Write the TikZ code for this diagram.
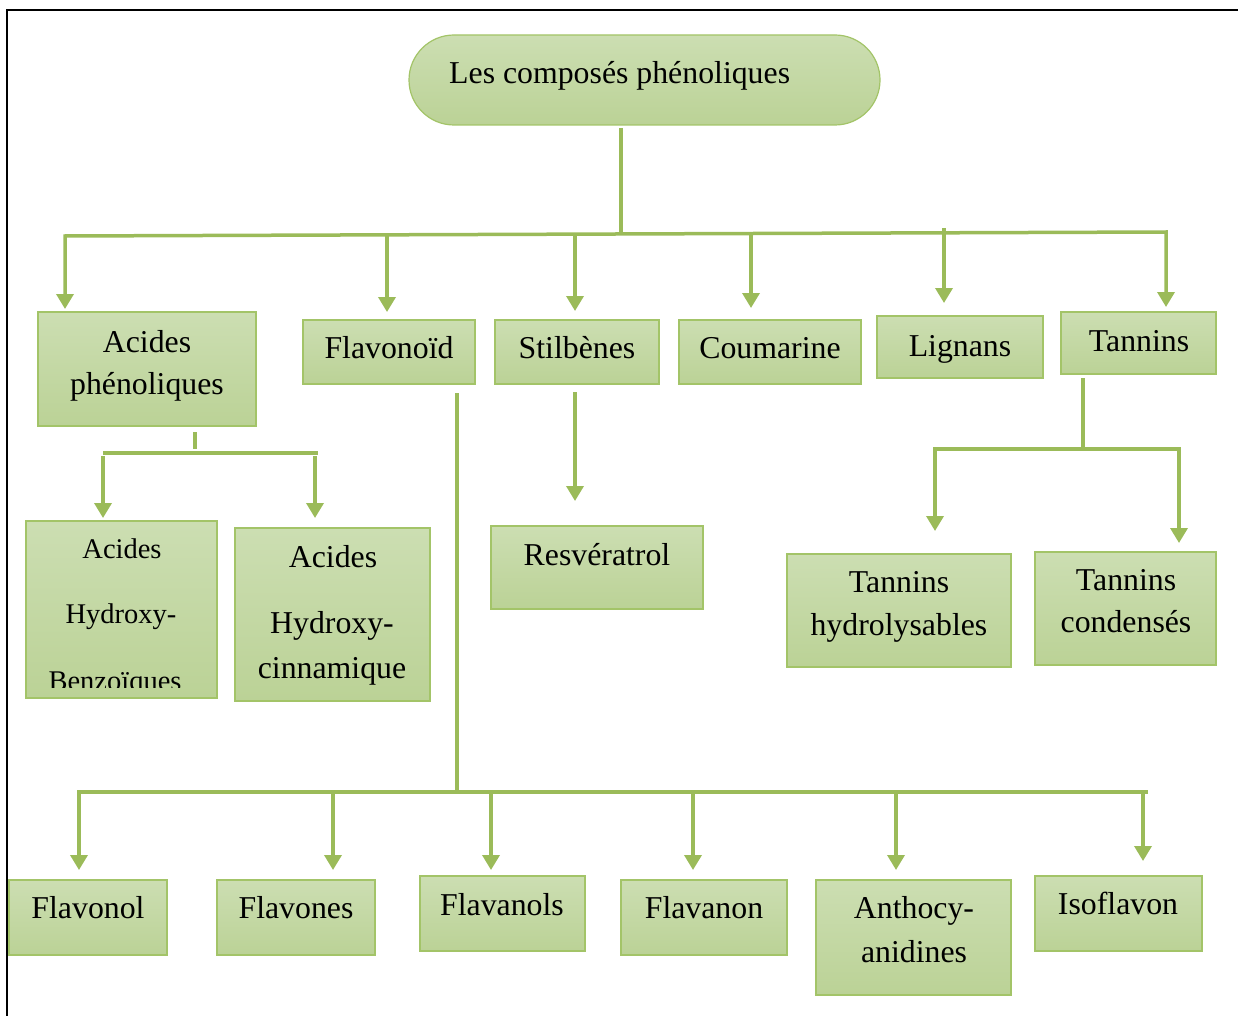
\documentclass[tikz,border=0pt]{standalone}
\usepackage{fontspec}
\setmainfont{Liberation Serif}
\usetikzlibrary{arrows.meta}
\definecolor{olive}{RGB}{155,187,89}
\definecolor{boxtop}{RGB}{204,222,178}
\definecolor{boxbot}{RGB}{187,210,150}
\definecolor{boxedge}{RGB}{163,196,104}
% a shaded green box given by its corners (x1,y1) (x2,y2), y growing downwards
\newcommand\greenbox[5]{\node[box, minimum width={#4-#2}, minimum height={#5-#3}] (#1) at (#2,#3) {};}
\begin{document}
\begin{tikzpicture}[x=1pt,y=-1pt,
  box/.style={draw=boxedge, line width=1.5pt, top color=boxtop, bottom color=boxbot,
              anchor=north west, inner sep=0pt, outer sep=0pt},
  txt/.style={anchor=base, inner sep=0pt, font=\fontsize{31.8}{38}\selectfont},
  small/.style={txt, font=\fontsize{28.5}{34}\selectfont},
  ln/.style={draw=olive, line width=3.5pt},
  tip/.style={-{Triangle[width=17pt,length=15pt]}},
  arr/.style={ln, tip}]
\useasboundingbox (0,0) rectangle (1238,1016);

% frame
\draw[line width=2.5pt] (1238,10) -- (7,10) -- (7,1016);

% root
\node[box, line width=1.2pt, rounded corners=45pt, minimum width=471, minimum height=90] (root) at (409,35) {};
\node[txt, anchor=base west, font=\fontsize{31.8}{38}\selectfont] (rootT) at (449,84) {Les composés phénoliques};

% first level
\greenbox{ap}{38}{312}{256}{426}
\greenbox{flav}{303}{320}{475}{384}
\greenbox{stil}{495}{320}{659}{384}
\greenbox{coum}{679}{320}{861}{384}
\greenbox{lign}{877}{316}{1043}{378}
\greenbox{tann}{1061}{312}{1216}{374}
\node[txt] (apA) at (147,352) {Acides};
\node[txt] (apB) at (147,394) {phénoliques};
\node[txt] (flavT) at (389,358) {Flavonoïd};
\node[txt] (stilT) at (577,358) {Stilbènes};
\node[txt] (coumT) at (770,358) {Coumarine};
\node[txt] (lignT) at (960,356) {Lignans};
\node[txt] (tannT) at (1139,351) {Tannins};

% second level
\greenbox{benz}{26}{521}{217}{698}
\greenbox{cinn}{235}{528}{430}{701}
\greenbox{resv}{491}{526}{703}{609}
\greenbox{thyd}{787}{554}{1011}{667}
\greenbox{tcond}{1035}{552}{1216}{665}
\begin{scope}
  \clip (26,521) rectangle (217,687);
  \node[small] (benzA) at (122,558) {Acides};
  \node[small] (benzB) at (121,623) {Hydroxy-};
  \node[small] (benzC) at (115,690) {Benzoïques};
\end{scope}
\node[txt] (cinnA) at (333,567) {Acides};
\node[txt] (cinnB) at (332,633) {Hydroxy-};
\node[txt] (cinnC) at (332,678) {cinnamique};
\node[txt] (resvT) at (597,565) {Resvératrol};
\node[txt] (thydA) at (899,592) {Tannins};
\node[txt] (thydB) at (899,635) {hydrolysables};
\node[txt] (tcondA) at (1126,590) {Tannins};
\node[txt] (tcondB) at (1126,632) {condensés};

% flavonoid classes
\greenbox{fl1}{9}{880}{167}{955}
\greenbox{fl2}{217}{880}{375}{955}
\greenbox{fl3}{420}{876}{585}{951}
\greenbox{fl4}{621}{880}{787}{955}
\greenbox{fl5}{816}{880}{1011}{995}
\greenbox{fl6}{1035}{876}{1202}{951}
\node[txt] (fl1T) at (88,918) {Flavonol};
\node[txt] (fl2T) at (296,918) {Flavones};
\node[txt] (fl3T) at (502,915) {Flavanols};
\node[txt] (fl4T) at (704,918) {Flavanon};
\node[txt] (fl5A) at (914,918) {Anthocy-};
\node[txt] (fl5B) at (914,962) {anidines};
\node[txt] (fl6T) at (1118,914) {Isoflavon};

% main bus under the root
\coordinate (stem) at (621,128);
\coordinate (busL) at (65,236);
\coordinate (busR) at (1166,232);
\draw[ln] (stem) -- (621,234);
\draw[ln, {Triangle[width=17pt,length=15pt]}-{Triangle[width=17pt,length=15pt]},
      shorten <=3pt, shorten >=5pt]
  (busL |- ap.north) -- (busL) -- (busR) -- (busR |- tann.north);
\coordinate (t2) at (387,235);
\coordinate (t3) at (575,234);
\coordinate (t4) at (751,233.5);
\coordinate (t5) at (944,228);
\draw[arr, shorten >=8pt] (t2) -- (t2 |- flav.north);
\draw[arr, shorten >=9pt] (t3) -- (t3 |- stil.north);
\draw[arr, shorten >=12pt] (t4) -- (t4 |- coum.north);
\draw[arr, shorten >=13pt] (t5) -- (t5 |- lign.north);

% acides phenoliques branch
\coordinate (apStem) at (195,432);
\coordinate (apL) at (103,453);
\coordinate (apR) at (318,453);
\coordinate (apA1) at (103,456);
\coordinate (apA2) at (315,456);
\draw[ln] (apStem) -- (195,449);
\draw[ln] (apL) -- (apR);
\draw[arr, shorten >=3pt] (apA1) -- (apA1 |- benz.north);
\draw[arr, shorten >=10pt] (apA2) -- (apA2 |- cinn.north);

% stilbenes branch
\coordinate (stilStem) at (575,392);
\draw[arr, shorten >=25pt] (stilStem) -- (stilStem |- resv.north);

% tannins branch
\coordinate (tStem) at (1083,378);
\coordinate (tL) at (935,449);
\coordinate (tR) at (1179,449);
\draw[ln] (tStem) -- (1083,449);
\draw[ln, {Triangle[width=17pt,length=15pt]}-{Triangle[width=17pt,length=15pt]},
      shorten <=23pt, shorten >=9pt]
  (tL |- thyd.north) -- (tL) -- (tR) -- (tR |- tcond.north);

% flavonoid branch
\coordinate (fStem) at (457,393);
\coordinate (fL) at (79,792);
\coordinate (fR) at (1148,792);
\draw[ln] (fStem) -- (457,792);
\draw[ln, tip, shorten >=10pt] (fR) -- (fL) -- (fL |- fl1.north);
\coordinate (f2) at (333,792);
\coordinate (f3) at (491,792);
\coordinate (f4) at (693,792);
\coordinate (f5) at (896,792);
\coordinate (f6) at (1143,792);
\draw[arr, shorten >=10pt] (f2) -- (f2 |- fl2.north);
\draw[arr, shorten >=6pt] (f3) -- (f3 |- fl3.north);
\draw[arr, shorten >=10pt] (f4) -- (f4 |- fl4.north);
\draw[arr, shorten >=10pt] (f5) -- (f5 |- fl5.north);
\draw[arr, shorten >=15pt] (f6) -- (f6 |- fl6.north);
\end{tikzpicture}
\end{document}
